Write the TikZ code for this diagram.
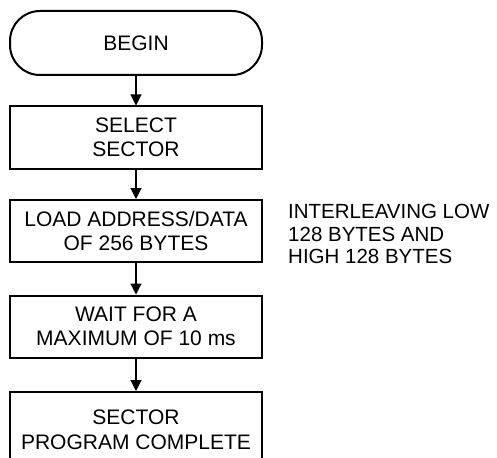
\documentclass[tikz,border=0pt]{standalone}
\usepackage{fontspec}
\setmainfont{Liberation Sans}
\usetikzlibrary{arrows.meta}

\begin{document}
\begin{tikzpicture}[x=1pt,y=-1pt,
	stepbox/.style={draw=black, line width=2pt, minimum width=252pt, inner sep=0pt, align=center, font=\fontsize{21}{24.5}\selectfont},
	flow/.style={-{Triangle[length=11pt,width=11pt]}, line width=1.1pt}]
	\useasboundingbox (0,0) rectangle (497,457);
	
	%terminal
	\node[stepbox, rounded corners=30pt, minimum height=64pt] (begin) at (136,43) {BEGIN};
	
	%process boxes
	\node[stepbox, minimum height=62pt] (select) at (136,137.5) {SELECT\\SECTOR};
	\node[stepbox, minimum height=62pt] (load)   at (136,231)   {LOAD ADDRESS/DATA\\OF 256 BYTES};
	\node[stepbox, minimum height=62pt] (wait)   at (136,326.5) {WAIT FOR A\\MAXIMUM OF 10 ms};
	\node[stepbox, minimum height=76pt] (done)   at (136,430)   {SECTOR\\PROGRAM COMPLETE};	%cut off at the bottom
	
	%side note
	\node[anchor=west, align=left, inner sep=0pt, font=\fontsize{20.5}{22.5}\selectfont] (note) at (288,234) {INTERLEAVING LOW\\128 BYTES AND\\HIGH 128 BYTES};
	
	%arrows
	\draw[flow] (begin) -- (select);
	\draw[flow] (select) -- (load);
	\draw[flow] (load) -- (wait);
	\draw[flow] (wait) -- (done);
	
\end{tikzpicture}
\end{document}
